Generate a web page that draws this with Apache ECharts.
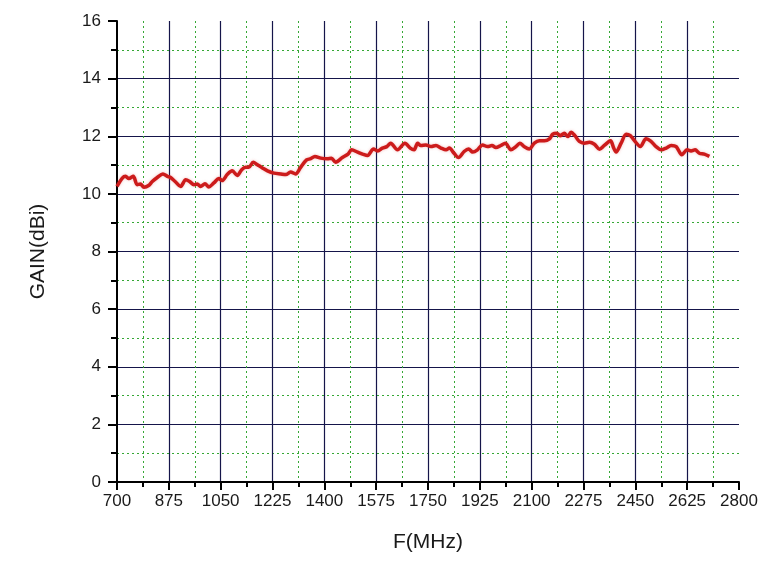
<!DOCTYPE html>
<html>
<head>
<meta charset="utf-8">
<script src="https://cdn.jsdelivr.net/npm/echarts@6/dist/echarts.min.js"></script>
<style>
html,body{margin:0;padding:0;background:#fff;}
#chart{width:769px;height:581px;}
</style>
</head>
<body>
<div id="chart"></div>
<script>
var freqMHz = [700,718,729,740,755,768,779,791,808,819,836,855,870,881,898,915,932,945,960,971,982,997,1010,1027,1044,1055,1072,1089,1106,1121,1134,1145,1160,1174,1191,1208,1230,1253,1270,1286,1303,1320,1340,1354,1368,1388,1410,1424,1438,1461,1480,1492,1512,1529,1546,1566,1580,1596,1611,1624,1647,1672,1690,1703,1715,1726,1743,1760,1777,1794,1811,1822,1838,1853,1872,1887,1901,1917,1934,1951,1966,1979,1996,2011,2030,2047,2060,2075,2092,2109,2126,2143,2160,2171,2185,2196,2210,2222,2233,2246,2261,2278,2295,2312,2329,2345,2366,2377,2385,2402,2419,2433,2449,2467,2486,2503,2520,2537,2554,2571,2588,2607,2625,2638,2652,2666,2683,2700];
var gainDBi = [10.26,10.55,10.61,10.53,10.61,10.32,10.34,10.23,10.30,10.43,10.57,10.69,10.61,10.57,10.41,10.26,10.49,10.43,10.32,10.34,10.26,10.35,10.24,10.38,10.53,10.46,10.67,10.80,10.64,10.84,10.92,10.92,11.10,11.01,10.90,10.80,10.72,10.69,10.67,10.76,10.69,10.92,11.18,11.22,11.30,11.24,11.22,11.24,11.10,11.26,11.38,11.53,11.45,11.38,11.33,11.56,11.49,11.59,11.64,11.76,11.53,11.76,11.59,11.53,11.76,11.68,11.70,11.64,11.68,11.59,11.53,11.59,11.41,11.26,11.47,11.56,11.45,11.53,11.70,11.64,11.68,11.61,11.68,11.76,11.53,11.64,11.76,11.64,11.56,11.76,11.84,11.84,11.91,12.07,12.10,12.02,12.10,11.99,12.14,12.02,11.82,11.76,11.79,11.72,11.55,11.68,11.84,11.59,11.45,11.76,12.07,12.02,11.82,11.64,11.91,11.82,11.64,11.53,11.59,11.68,11.64,11.36,11.53,11.49,11.53,11.41,11.38,11.30];
var xTitle = 'F(MHz)';
var yTitle = 'GAIN(dBi)';

var points = freqMHz.map(function(f, i){ return [f, gainDBi[i]]; });
var labelFont = 'Liberation Sans, Arial, sans-serif';

var chart = echarts.init(document.getElementById('chart'), null, {renderer:'canvas'});
chart.setOption({
  animation: false,
  backgroundColor: '#ffffff',
  grid: {left:117, right:30, top:21, bottom:99, containLabel:false},
  xAxis: {
    type: 'value', min: 700, max: 2800, interval: 175,
    name: xTitle, nameLocation: 'middle', nameGap: 50,
    nameTextStyle: {fontSize: 21, color:'#1a1a1a', fontFamily: labelFont},
    axisLine: {show:true, onZero:false, lineStyle:{color:'#000', width:2}},
    axisTick: {show:true, inside:false, length:8, lineStyle:{color:'#000', width:2}},
    minorTick: {show:true, splitNumber:2, length:5, lineStyle:{color:'#000', width:2}},
    axisLabel: {fontSize:17, color:'#1a1a1a', margin:11, fontFamily: labelFont,
      formatter: function(v){ return String(v); }},
    splitLine: {show:true, showMinLine:false, showMaxLine:false, lineStyle:{color:'#15154a', width:1.2}},
    minorSplitLine: {show:true, lineStyle:{color:'#35a835', width:1, type:[2,3]}}
  },
  yAxis: {
    type: 'value', min: 0, max: 16, interval: 2,
    name: yTitle, nameLocation: 'middle', nameGap: 68, nameRotate: 90,
    nameTextStyle: {fontSize: 21, color:'#1a1a1a', fontFamily: labelFont},
    axisLine: {show:true, lineStyle:{color:'#000', width:2}},
    axisTick: {show:true, inside:false, length:9, lineStyle:{color:'#000', width:2}},
    minorTick: {show:true, splitNumber:2, length:6, lineStyle:{color:'#000', width:2}},
    axisLabel: {fontSize:17, color:'#1a1a1a', margin:16, fontFamily: labelFont},
    splitLine: {show:true, showMinLine:false, showMaxLine:false, lineStyle:{color:'#15154a', width:1.2}},
    minorSplitLine: {show:true, lineStyle:{color:'#35a835', width:1, type:[2,3]}}
  },
  series: [{
    type: 'line',
    data: points,
    showSymbol: false,
    smooth: 0.3,
    lineStyle: {color:'#cc1b1b', width:3.5, shadowColor:'rgba(220,60,60,0.35)', shadowBlur:3}
  }]
});
</script>
</body>
</html>
